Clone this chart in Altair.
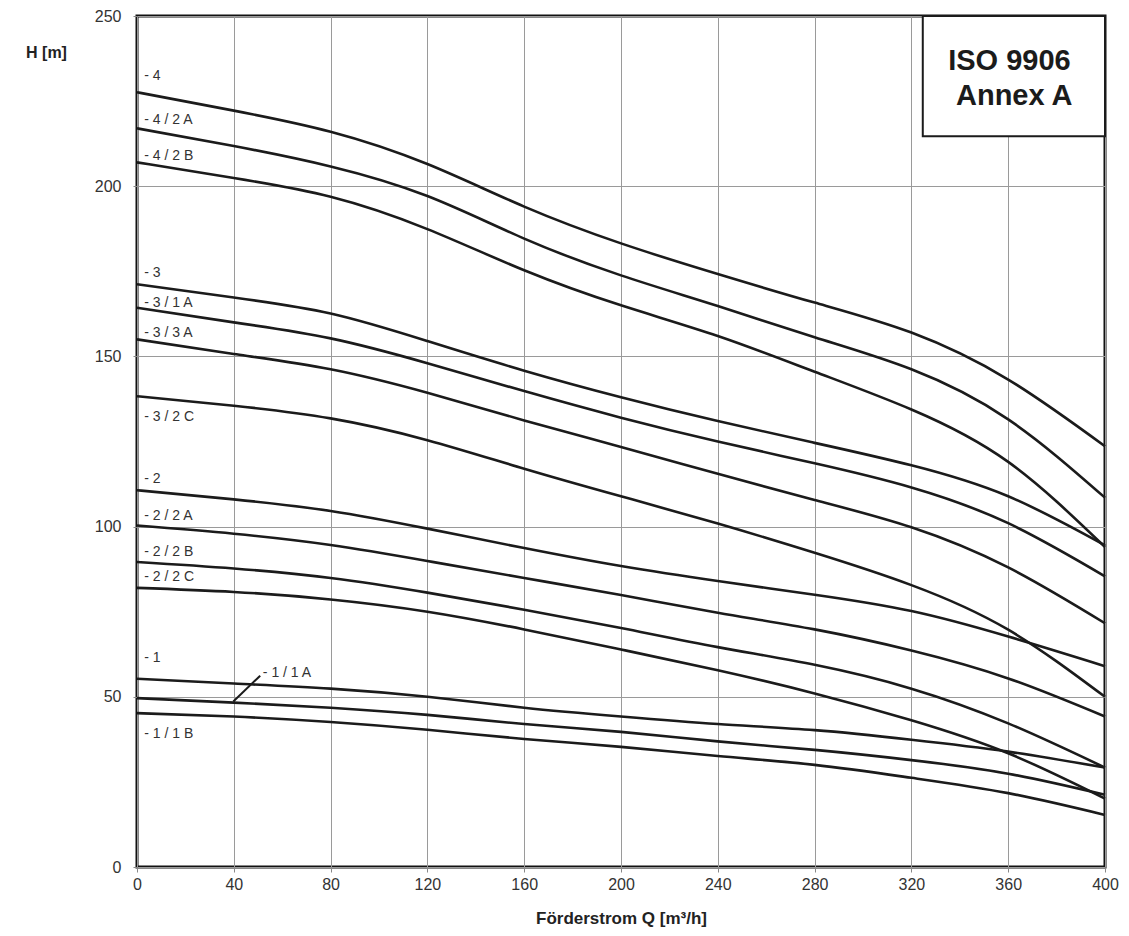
import altair as alt
import pandas as pd

# ---- data ----
Q = [0, 40, 80, 120, 160, 200, 240, 280, 320, 360, 400]

series = ["4", "4/2A", "4/2B", "3", "3/1A", "3/3A", "3/2C",
          "2", "2/2A", "2/2B", "2/2C", "1", "1/1A", "1/1B"]

h_4    = [227.6, 222.2, 216.0, 206.5, 194.0, 183.2, 174.2, 165.8, 157.0, 143.2, 123.6]
h_4_2A = [217.0, 211.8, 205.8, 197.1, 184.6, 173.8, 164.8, 155.6, 146.2, 131.5, 108.5]
h_4_2B = [207.0, 202.4, 196.9, 187.4, 175.3, 165.0, 156.0, 145.5, 134.4, 119.0, 94.0]
h_3    = [171.2, 167.3, 162.6, 154.5, 145.8, 138.0, 131.0, 124.6, 118.0, 108.9, 94.5]
h_3_1A = [164.3, 160.0, 155.3, 148.0, 139.8, 132.0, 125.0, 118.6, 111.5, 101.0, 85.4]
h_3_3A = [155.0, 150.7, 146.2, 139.3, 131.2, 123.4, 115.5, 107.8, 99.8, 88.0, 71.6]
h_3_2C = [138.3, 135.5, 131.8, 125.4, 117.0, 108.9, 100.9, 92.3, 82.8, 69.7, 50.0]
h_2    = [110.7, 108.0, 104.6, 99.4, 93.7, 88.4, 84.0, 80.0, 75.2, 67.7, 59.0]
h_2_2A = [100.3, 97.9, 94.6, 89.9, 84.9, 79.9, 74.7, 69.8, 63.6, 55.4, 44.2]
h_2_2B = [89.6, 87.7, 84.9, 80.6, 75.6, 70.2, 64.6, 59.4, 52.4, 42.2, 29.2]
h_2_2C = [82.0, 80.8, 78.6, 75.0, 69.8, 63.9, 57.8, 51.0, 43.1, 33.4, 20.1]
h_1    = [55.3, 53.9, 52.4, 50.0, 46.8, 44.2, 42.0, 40.2, 37.4, 33.9, 29.2]
h_1_1A = [49.6, 48.3, 46.8, 44.7, 42.0, 39.7, 36.9, 34.4, 31.4, 27.4, 21.2]
h_1_1B = [45.2, 44.2, 42.6, 40.3, 37.6, 35.3, 32.6, 30.0, 26.2, 21.7, 15.3]

heads = [h_4, h_4_2A, h_4_2B, h_3, h_3_1A, h_3_3A, h_3_2C,
         h_2, h_2_2A, h_2_2B, h_2_2C, h_1, h_1_1A, h_1_1B]

# curve labels (text, Q of text start, H of text centre)
label_text = ["- 4", "- 4 / 2 A", "- 4 / 2 B", "- 3", "- 3 / 1 A", "- 3 / 3 A", "- 3 / 2 C",
              "- 2", "- 2 / 2 A", "- 2 / 2 B", "- 2 / 2 C", "- 1", "- 1 / 1 A", "- 1 / 1 B"]
label_q = [3, 3, 3, 3, 3, 3, 3, 3, 3, 3, 3, 3, 52, 3]
label_h = [232.3, 219.5, 208.9, 174.6, 165.6, 156.8, 132.2,
           114.0, 103.0, 92.6, 85.3, 61.4, 56.9, 39.1]

# leader line for "- 1 / 1 A"
leader_q = [39.8]
leader_q2 = [50.9]
leader_h = [48.6]
leader_h2 = [56.2]

# title box
box_q = [324.7]
box_q2 = [400]
box_h = [214.7]
box_h2 = [250]
box_text = ["ISO 9906", "Annex A"]
box_text_q = [360.5, 362.5]
box_text_h = [236.9, 226.6]

x_ticks = list(range(0, 401, 40))
y_ticks = list(range(0, 251, 50))

# ---- tables ----
rows = []
for name, hs in zip(series, heads):
    for q, h in zip(Q, hs):
        rows.append({"series": name, "Q": q, "H": h})
curves = pd.DataFrame(rows)
labels = pd.DataFrame({"text": label_text, "Q": label_q, "H": label_h})
leader = pd.DataFrame({"Q": leader_q, "Q2": leader_q2, "H": leader_h, "H2": leader_h2})
box = pd.DataFrame({"Q": box_q, "Q2": box_q2, "H": box_h, "H2": box_h2})
boxtxt = pd.DataFrame({"text": box_text, "Q": box_text_q, "H": box_text_h})

FONT = "Liberation Sans"

xs = alt.Scale(domain=[0, 400], nice=False, zero=False)
ys = alt.Scale(domain=[0, 250], nice=False, zero=False)

x_enc = alt.X("Q:Q", scale=xs, axis=alt.Axis(
    values=x_ticks, title="Förderstrom Q [m³/h]", grid=True,
    tickSize=5, labelPadding=4, labelFontSize=16, titleFontSize=17,
    titleY=51, titleBaseline="middle", labelFlush=False))
y_enc = alt.Y("H:Q", scale=ys, axis=alt.Axis(
    values=y_ticks, title="H [m]", grid=True, tickSize=4, labelPadding=12,
    labelFontSize=16, titleFontSize=16, titleAngle=0, titleAlign="center",
    titleBaseline="middle", titleX=-91, titleY=36, labelFlush=False))

lines = alt.Chart(curves).mark_line(
    interpolate="natural", color="#1b1b1b", strokeWidth=2.6
).encode(x=x_enc, y=y_enc, detail="series:N")

texts = alt.Chart(labels).mark_text(
    align="left", baseline="middle", font=FONT, fontSize=14, color="#333"
).encode(x=x_enc, y=y_enc, text="text:N")

lead = alt.Chart(leader).mark_rule(color="#1b1b1b", strokeWidth=2).encode(
    x=x_enc, y=y_enc, x2="Q2:Q", y2="H2:Q")

rect = alt.Chart(box).mark_rect(fill="white", stroke="#1b1b1b", strokeWidth=2).encode(
    x=x_enc, y=y_enc, x2="Q2:Q", y2="H2:Q")

rtxt = alt.Chart(boxtxt).mark_text(
    align="center", baseline="middle", font=FONT, fontSize=29, fontWeight="bold", color="#1b1b1b"
).encode(x=x_enc, y=y_enc, text="text:N")

chart = alt.layer(lines, texts, lead, rect, rtxt).properties(
    width=968, height=851,
    autosize=alt.AutoSizeParams(type="none"),
    padding={"left": 129, "top": 8, "right": 16, "bottom": 60},
    background="white",
).configure_view(
    stroke="#111", strokeWidth=3
).configure_axis(
    gridColor="#9a9a9a", gridWidth=1, domain=False, tickColor="#888",
    labelColor="#333", labelFont=FONT, titleFont=FONT,
    titleFontWeight="bold", titleColor="#222"
)

chart.save("out.html", embed_options={"renderer": "svg", "actions": False})
